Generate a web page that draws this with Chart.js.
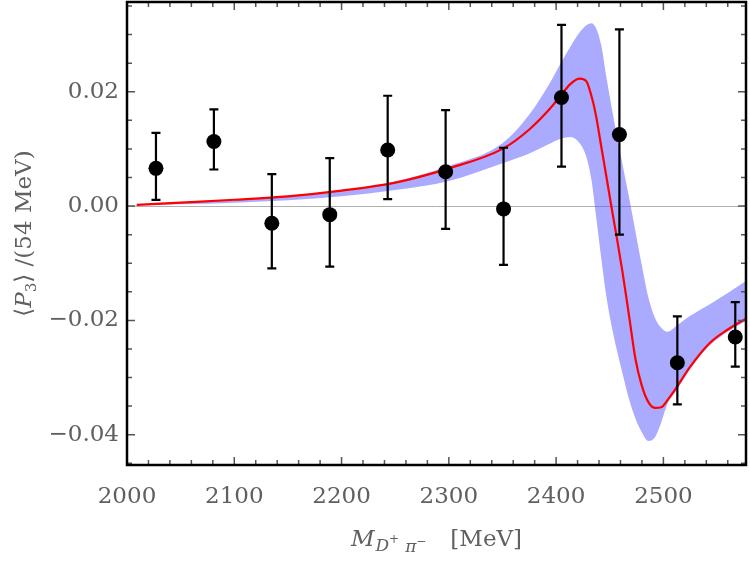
<!DOCTYPE html>
<html>
<head>
<meta charset="utf-8">
<script src="https://cdn.jsdelivr.net/npm/chart.js@4.4.0/dist/chart.umd.min.js"></script>
<style>
  html, body { margin: 0; padding: 0; background: #fff; }
</style>
</head>
<body>
<canvas id="p3Chart" width="750" height="561"></canvas>
<script>
// measured <P3> per 54 MeV bin
const massBins = [2027, 2081, 2135, 2189, 2243, 2297, 2351, 2405, 2459, 2513, 2567];
const p3Values = [0.0066, 0.0113, -0.0030, -0.0015, 0.0098, 0.0060, -0.0005, 0.0190, 0.0125, -0.0274, -0.0229];
const p3ErrHigh = [0.0128, 0.0169, 0.0056, 0.0084, 0.0193, 0.0168, 0.0102, 0.0317, 0.0309, -0.0193, -0.0168];
const p3ErrLow = [0.0011, 0.0064, -0.0109, -0.0106, 0.0012, -0.0040, -0.0103, 0.0069, -0.0050, -0.0347, -0.0281];

// fit curve + uncertainty band
const fitMass = [2009, 2050, 2100, 2150, 2200, 2250, 2300, 2350, 2375, 2395, 2405, 2413, 2422, 2428, 2433, 2437,
                 2442, 2447, 2452, 2457, 2462, 2468, 2474, 2480, 2486, 2492, 2498, 2504, 2512, 2525, 2543, 2560, 2578];
const fitCentral = [0.0002, 0.0006, 0.0011, 0.0017, 0.0027, 0.0041, 0.0066, 0.0100, 0.0134, 0.0172, 0.0195, 0.0213,
                    0.0223, 0.0219, 0.0192, 0.0160, 0.0105, 0.0050, -0.0006, -0.0060, -0.0117, -0.0192, -0.0268,
                    -0.0315, -0.0343, -0.0353, -0.0352, -0.0339, -0.0318, -0.0281, -0.0240, -0.0216, -0.0196];
const fitUpper = [0.0002, 0.0006, 0.0011, 0.0018, 0.0028, 0.0043, 0.0070, 0.0110, 0.0160, 0.0218, 0.0252, 0.0278,
                  0.0304, 0.0316, 0.0320, 0.0312, 0.0282, 0.0224, 0.0170, 0.0120, 0.0072, 0.0015, -0.0045,
                  -0.0105, -0.0160, -0.0195, -0.0213, -0.0220, -0.0210, -0.0192, -0.0172, -0.0152, -0.0130];
const fitLower = [0.0001, 0.0003, 0.0006, 0.0010, 0.0017, 0.0028, 0.0044, 0.0075, 0.0092, 0.0110, 0.0118, 0.0121,
                  0.0110, 0.0087, 0.0045, -0.0014, -0.0090, -0.0160, -0.0212, -0.0255, -0.0294, -0.0338, -0.0372,
                  -0.0396, -0.0411, -0.0405, -0.0378, -0.0345, -0.0323, -0.0285, -0.0244, -0.0220, -0.0200];

const xTickLabels = [2000, 2100, 2200, 2300, 2400, 2500];
const yTickLabels = [-0.04, -0.02, 0.00, 0.02];

const SERIF = "'DejaVu Serif', 'Liberation Serif', serif";
const LABEL_GREY = "#606060";

function isLabelled(list, v) {
    return list.some(t => Math.abs(t - v) < 1e-9);
}

function fmtY(v) {
    if (Math.abs(v) < 1e-9) return "0.00";
    return (v < 0 ? "\u2212" : "") + Math.abs(v).toFixed(2);
}

// draw a row of text pieces (for sub/superscripts), centred on cx
function drawRuns(ctx, runs, cx, baseline) {
    let total = 0;
    runs.forEach(r => {
        ctx.font = r.font;
        r.w = r.text ? ctx.measureText(r.text).width : 0;
        total += r.w + (r.gap || 0);
    });
    let x = cx - total / 2;
    runs.forEach(r => {
        if (r.text) {
            ctx.font = r.font;
            ctx.fillText(r.text, x, baseline + (r.dy || 0));
        }
        x += r.w + (r.gap || 0);
    });
}

/* =====================================
   ERROR BARS
===================================== */
const errorBars = {
    id: "errorBars",
    afterDatasetsDraw(chart) {
        const { ctx, scales: { x, y } } = chart;
        ctx.save();
        ctx.strokeStyle = "#000";
        ctx.lineWidth = 2.2;
        massBins.forEach((m, i) => {
            const px = x.getPixelForValue(m);
            const top = y.getPixelForValue(p3ErrHigh[i]);
            const bot = y.getPixelForValue(p3ErrLow[i]);
            ctx.beginPath();
            ctx.moveTo(px, top);
            ctx.lineTo(px, bot);
            ctx.moveTo(px - 4.5, top);
            ctx.lineTo(px + 4.5, top);
            ctx.moveTo(px - 4.5, bot);
            ctx.lineTo(px + 4.5, bot);
            ctx.stroke();
        });
        ctx.restore();
    }
};

/* =====================================
   FRAME, INWARD TICKS, AXIS TITLES
===================================== */
const frameTicks = {
    id: "frameTicks",
    afterDraw(chart) {
        const { ctx, chartArea: a, scales: { x, y } } = chart;
        ctx.save();

        ctx.strokeStyle = "#555";
        ctx.lineWidth = 1.5;
        ctx.beginPath();
        x.ticks.forEach(t => {
            const px = x.getPixelForValue(t.value);
            const len = isLabelled(xTickLabels, t.value) ? 8 : 5;
            ctx.moveTo(px, a.bottom);
            ctx.lineTo(px, a.bottom - len);
            ctx.moveTo(px, a.top);
            ctx.lineTo(px, a.top + len);
        });
        y.ticks.forEach(t => {
            const py = y.getPixelForValue(t.value);
            const len = isLabelled(yTickLabels, t.value) ? 8 : 5;
            ctx.moveTo(a.left, py);
            ctx.lineTo(a.left + len, py);
            ctx.moveTo(a.right, py);
            ctx.lineTo(a.right - len, py);
        });
        ctx.stroke();

        ctx.strokeStyle = "#000";
        ctx.lineWidth = 2.5;
        ctx.strokeRect(a.left, a.top, a.right - a.left, a.bottom - a.top);

        ctx.fillStyle = LABEL_GREY;
        ctx.textBaseline = "alphabetic";
        ctx.textAlign = "left";

        // x title: M_{D+ pi-} [MeV]
        drawRuns(ctx, [
            { text: "M", font: "italic 23px " + SERIF, gap: 1 },
            { text: "D", font: "italic 17px " + SERIF, dy: 5 },
            { text: "+", font: "12px " + SERIF, dy: -3, gap: 6 },
            { text: "\u03C0", font: "italic 17px " + SERIF, dy: 6 },
            { text: "\u2212", font: "12px " + SERIF, dy: -1, gap: 24 },
            { text: "[MeV]", font: "23px " + SERIF }
        ], (a.left + a.right) / 2, 546);

        // y title: <P_3> /(54 MeV)
        ctx.translate(31, (a.top + a.bottom) / 2);
        ctx.rotate(-Math.PI / 2);
        drawRuns(ctx, [
            { text: "\u27E8", font: "23px " + SERIF },
            { text: "P", font: "italic 23px " + SERIF },
            { text: "3", font: "15px " + SERIF, dy: 5 },
            { text: "\u27E9 /(54 MeV)", font: "23px " + SERIF }
        ], 0, 0);

        ctx.restore();
    }
};

const toXY = (xs, ys) => xs.map((v, i) => ({ x: v, y: ys[i] }));

const ctx = document.getElementById("p3Chart").getContext("2d");

const chart = new Chart(ctx, {
    type: "line",
    data: {
        datasets: [
            {
                label: "data",
                data: toXY(massBins, p3Values),
                showLine: false,
                pointRadius: 7.5,
                pointBackgroundColor: "#000",
                pointBorderColor: "#000",
                pointBorderWidth: 0,
                borderColor: "#000"
            },
            {
                label: "fit",
                data: toXY(fitMass, fitCentral),
                borderColor: "#ff0000",
                borderWidth: 2.2,
                pointRadius: 0,
                cubicInterpolationMode: "monotone",
                fill: false
            },
            {
                label: "band upper",
                data: toXY(fitMass, fitUpper),
                borderColor: "transparent",
                borderWidth: 0,
                pointRadius: 0,
                cubicInterpolationMode: "monotone",
                backgroundColor: "rgba(85,85,255,0.5)",
                fill: "+1"
            },
            {
                label: "band lower",
                data: toXY(fitMass, fitLower),
                borderColor: "transparent",
                borderWidth: 0,
                pointRadius: 0,
                cubicInterpolationMode: "monotone",
                fill: false
            }
        ]
    },
    options: {
        responsive: false,
        animation: false,
        devicePixelRatio: 1,
        layout: { autoPadding: false, padding: { top: 2, right: 4, left: 0, bottom: 0 } },
        plugins: {
            legend: { display: false },
            tooltip: { enabled: false }
        },
        scales: {
            x: {
                type: "linear",
                min: 2000,
                max: 2577,
                afterFit(s) {
                    s.height = 96;
                    s.paddingLeft = 0;
                    s.paddingRight = 0;
                },
                grid: { display: false },
                border: { display: false },
                ticks: {
                    stepSize: 20,
                    autoSkip: false,
                    includeBounds: false,
                    maxRotation: 0,
                    minRotation: 0,
                    padding: 10,
                    color: LABEL_GREY,
                    font: { family: SERIF, size: 23 },
                    callback: v => isLabelled(xTickLabels, v) ? String(v) : ""
                }
            },
            y: {
                type: "linear",
                min: -0.0453,
                max: 0.0357,
                afterFit(s) {
                    s.width = 127;
                    s.paddingTop = 0;
                    s.paddingBottom = 0;
                },
                grid: {
                    drawTicks: false,
                    lineWidth: 1,
                    color: c => (c.tick && Math.abs(c.tick.value) < 1e-9) ? "#b0b0b0" : "rgba(0,0,0,0)"
                },
                border: { display: false },
                ticks: {
                    stepSize: 0.005,
                    autoSkip: false,
                    includeBounds: false,
                    padding: 8,
                    color: LABEL_GREY,
                    font: { family: SERIF, size: 23 },
                    callback: v => isLabelled(yTickLabels, v) ? fmtY(v) : ""
                }
            }
        }
    },
    plugins: [errorBars, frameTicks]
});
</script>
</body>
</html>
